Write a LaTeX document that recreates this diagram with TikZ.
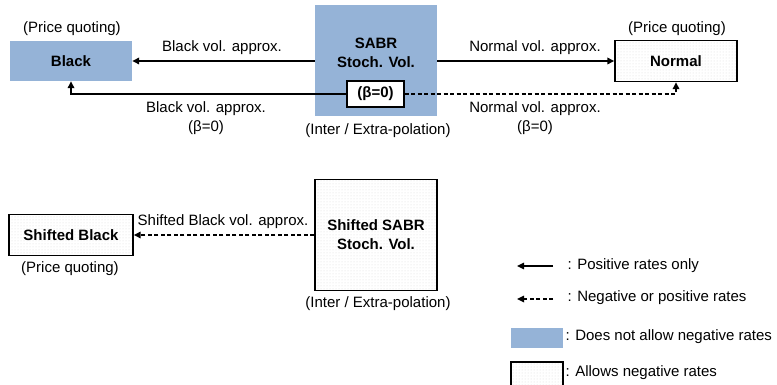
\documentclass[tikz,border=0pt]{standalone}
\usepackage{fontspec}
\setmainfont{Liberation Sans}
\usetikzlibrary{arrows.meta,patterns}
\definecolor{sabrblue}{HTML}{95B3D7}
\begin{document}
\begin{tikzpicture}[x=1pt, y=-1pt, font=\fontsize{15}{19}\selectfont,
        bluebox/.style={fill=sabrblue, inner sep=0pt},
        dotbox/.style={draw, line width=1.4pt, pattern=dots, pattern color=black!16, inner sep=0pt},
        conn/.style={line width=1.6pt, -{Triangle[length=7pt, width=6.5pt]}},
        dashconn/.style={conn, dash pattern=on 4pt off 2.5pt}]
        \useasboundingbox (0, 0) rectangle (777, 385);
        % \draw (0, 0) grid (777, 385);
        % top row
        \node[bluebox, minimum width=122, minimum height=40, name=black] at (71, 61) {\textbf{Black}};
        \node[bluebox, minimum width=122, minimum height=111, name=sabr] at (376, 61) {};
        \node[align=center, name=sabr_txt] at (376, 53) {\textbf{SABR}\\\textbf{Stoch. Vol.}};
        \node[draw, fill=white, line width=1.4pt, minimum width=57, minimum height=26, inner sep=0pt, name=beta] at (375.5, 94) {\textbf{(β=0)}};
        \node[dotbox, minimum width=122, minimum height=41, name=normal] at (676, 61) {\textbf{Normal}};
        \node[name=black_quote] at (72, 29) {(Price quoting)};
        \node[name=normal_quote] at (677, 29) {(Price quoting)};
        \node[name=sabr_interp] at (378, 131) {(Inter / Extra-polation)};
        \draw[conn] (sabr.west) -- (black.east);
        \draw[conn] (sabr.east) -- (normal.west);
        \draw[conn] (beta.west) -| (black.south);
        \draw[dashconn] (beta.east) -| (normal.south);
        \node[name=black_lbl] at (222, 48) {Black vol. approx.};
        \node[name=normal_lbl] at (535, 48) {Normal vol. approx.};
        \node[align=center, name=black_beta_lbl] at (206, 118) {Black vol. approx.\\(β=0)};
        \node[align=center, name=normal_beta_lbl] at (535, 118) {Normal vol. approx.\\(β=0)};
        % bottom row
        \node[dotbox, minimum width=124, minimum height=41, name=sblack] at (71, 235) {\textbf{Shifted Black}};
        \node[dotbox, minimum width=122, minimum height=111, align=center, name=ssabr] at (376, 235) {\textbf{Shifted SABR}\\\textbf{Stoch. Vol.}};
        \node[name=sblack_quote] at (70, 269) {(Price quoting)};
        \node[name=ssabr_interp] at (378, 304) {(Inter / Extra-polation)};
        \draw[dashconn] (ssabr.west) -- (sblack.east);
        \node[name=sblack_lbl] at (223, 222) {Shifted Black vol. approx.};
        % legend
        \coordinate (leg_a1) at (553, 266);
        \coordinate (leg_a2) at (517, 266);
        \coordinate (leg_b1) at (553, 299);
        \coordinate (leg_b2) at (517, 299);
        \draw[conn] (leg_a1) -- (leg_a2);
        \draw[dashconn] (leg_b1) -- (leg_b2);
        \node[bluebox, minimum width=52, minimum height=20, name=leg_blue] at (537, 338) {};
        \node[dotbox, minimum width=52, minimum height=26, name=leg_dot] at (537, 375) {};
        \node[anchor=west, name=leg_a_txt] at (564, 266) {: Positive rates only};
        \node[anchor=west, name=leg_b_txt] at (564, 298) {: Negative or positive rates};
        \node[anchor=west, name=leg_c_txt] at (562, 337) {: Does not allow negative rates};
        \node[anchor=west, name=leg_d_txt] at (562, 373) {: Allows negative rates};
    \end{tikzpicture}
\end{document}
